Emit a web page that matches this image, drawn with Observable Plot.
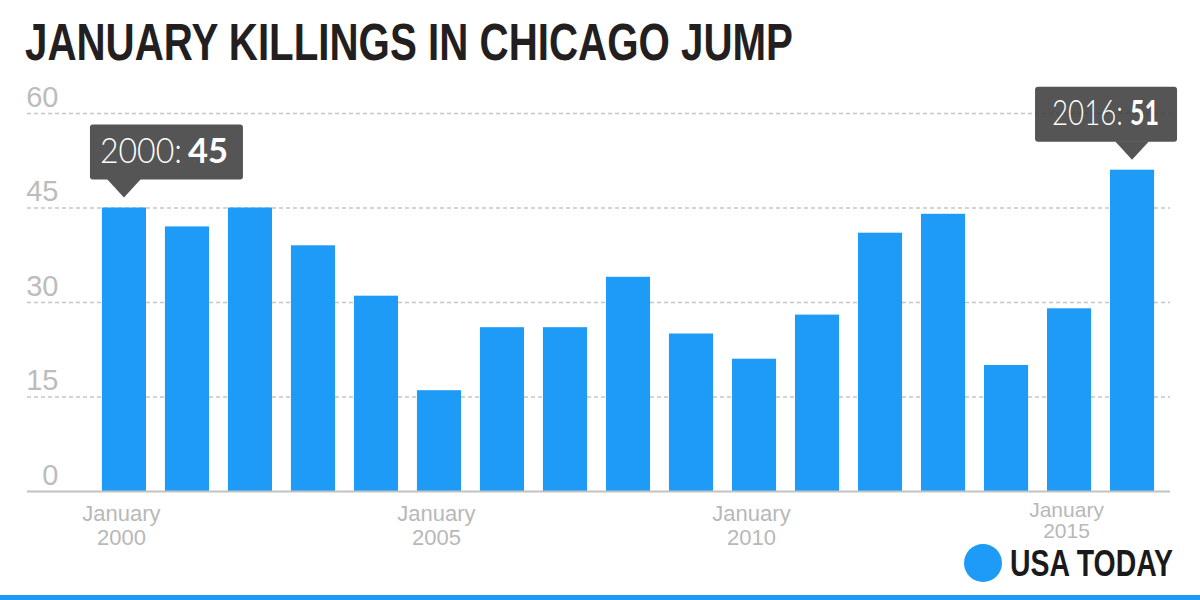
<!DOCTYPE html>
<html>
<head>
<meta charset="utf-8">
<script src="https://cdn.jsdelivr.net/npm/d3@7"></script>
<script src="https://cdn.jsdelivr.net/npm/@observablehq/plot@0.6"></script>
<style>
  html, body { margin: 0; padding: 0; background: #fff; }
  body { width: 1200px; height: 600px; position: relative; overflow: hidden; }
  #title { position: absolute; left: 25px; top: 18px; display: inline-block; font-family: "Liberation Sans", Arial, sans-serif; font-weight: bold; font-size: 51px; line-height: 50px; color: #231f20; white-space: nowrap; transform-origin: 0 0; }
  #chart { position: absolute; left: 0; top: 75px; }
  #logoDot { position: absolute; left: 964px; top: 544px; width: 38px; height: 38px; border-radius: 50%; background: #1d9bf6; }
  #logoText { position: absolute; left: 1010px; top: 550px; display: inline-block; font-family: "Liberation Sans", Arial, sans-serif; font-weight: bold; font-size: 37px; line-height: 28px; color: #1a1a1a; white-space: nowrap; transform-origin: 0 0; }
  #strip { position: absolute; left: 0; top: 595px; width: 1200px; height: 5px; background: #1d9bf6; }
</style>
</head>
<body>
<div id="title">JANUARY KILLINGS IN CHICAGO JUMP</div>
<div id="chart"></div>
<div id="logoDot"></div>
<div id="logoText">USA TODAY</div>
<div id="strip"></div>
<script>
// ---- data ----
const years = [2000, 2001, 2002, 2003, 2004, 2005, 2006, 2007, 2008, 2009, 2010, 2011, 2012, 2013, 2014, 2015, 2016];
const killings = [45, 42, 45, 39, 31, 16, 26, 26, 34, 25, 21, 28, 41, 44, 20, 29, 51];
const yTicks = [0, 15, 30, 45, 60];
const xTicks = [2000, 2005, 2010, 2015];
const calloutYears = [2000, 2016];

// ---- layout / style ----
const blue = "#1d9bf6";
const calloutLayout = {
  2000: {left: 34, width: 153, pad: 10, yearW: 82, gap: 6, valueW: 40},
  2016: {left: 97, width: 142, pad: 17, yearW: 71, gap: 7, valueW: 29}
};

const data = years.map((year, i) => ({year, value: killings[i]}));
const calloutData = data.filter(d => calloutYears.includes(d.year));

function callouts(index, scales) {
  const {x, y} = scales;
  const bw = x.bandwidth ? x.bandwidth() : 0;
  const g = d3.create("svg:g").attr("text-anchor", "start");
  for (const c of calloutData) {
    const L = calloutLayout[c.year];
    const cx = x(c.year) + bw / 2;
    const top = y(c.value);
    const tip = top - 10, base = tip - 18, h = 55;
    const bx = cx - L.left;
    const shape = g.append("g").attr("opacity", 0.86);
    shape.append("rect").attr("x", bx).attr("y", base - h).attr("width", L.width).attr("height", h).attr("rx", 3).attr("fill", "#3a3a3a");
    shape.append("path").attr("d", `M${cx - 17},${base - 0.5}L${cx + 17},${base - 0.5}L${cx},${tip}Z`).attr("fill", "#3a3a3a");
    const ty = base - 17;
    const parts = [
      {text: `${c.year}:`, x: bx + L.pad, w: L.yearW, weight: 300},
      {text: String(c.value), x: bx + L.pad + L.yearW + L.gap, w: L.valueW, weight: 700}
    ];
    for (const p of parts) {
      g.append("text")
        .attr("class", "callout-part")
        .attr("data-x", p.x).attr("data-y", ty).attr("data-w", p.w)
        .attr("transform", `translate(${p.x},${ty})`)
        .attr("fill", "#fff").attr("text-anchor", "start")
        .attr("font-family", "Lato, 'Open Sans', sans-serif").attr("font-size", 35).attr("font-weight", p.weight)
        .text(p.text);
    }
  }
  return g.node();
}

const tickText = (ticks, dy, fontSize, lineHeight) => Plot.text(ticks, {
  x: d => d, frameAnchor: "bottom", text: d => `January\n${d}`,
  lineAnchor: "top", dy, dx: -3, fontSize, lineHeight, fill: "#b8b8b8"
});

const chart = Plot.plot({
  width: 1200,
  height: 525,
  marginTop: 38,
  marginBottom: 109,
  marginLeft: 27,
  marginRight: 30,
  x: {type: "band", domain: years, insetLeft: 56, insetRight: -3, padding: 0.3, round: false, axis: null},
  y: {domain: [0, 60], axis: null},
  style: {fontFamily: "'Liberation Sans', Arial, sans-serif", background: "transparent", overflow: "visible"},
  marks: [
    Plot.ruleY(yTicks.filter(d => d > 0), {stroke: "#c6c6c6", strokeDasharray: "4,3", strokeWidth: 1.4}),
    Plot.barY(data, {x: "year", y: "value", fill: blue}),
    Plot.ruleY([0], {stroke: "#c2c2c2", strokeWidth: 2}),
    Plot.text(yTicks, {y: d => d, frameAnchor: "left", text: d => String(d), textAnchor: "end", lineAnchor: "bottom", dx: 31, dy: -7, fontSize: 29, fill: "#bcbcbc"}),
    tickText(xTicks.slice(0, 3), 12, 22, 1.09),
    tickText(xTicks.slice(3), 11, 21, 1.0),
    callouts
  ]
});
document.getElementById("chart").appendChild(chart);

// squeeze callout text parts horizontally to their target widths
for (const el of chart.querySelectorAll("text.callout-part")) {
  const w = el.getComputedTextLength();
  const tw = +el.getAttribute("data-w");
  if (w > 0) el.setAttribute("transform", `translate(${el.getAttribute("data-x")},${el.getAttribute("data-y")}) scale(${tw / w},1)`);
}

function fitWidth(id, target) {
  const el = document.getElementById(id);
  const w = el.getBoundingClientRect().width;
  if (w > 0) el.style.transform = `scaleX(${target / w})`;
}
fitWidth("title", 768);
fitWidth("logoText", 163);
</script>
</body>
</html>
